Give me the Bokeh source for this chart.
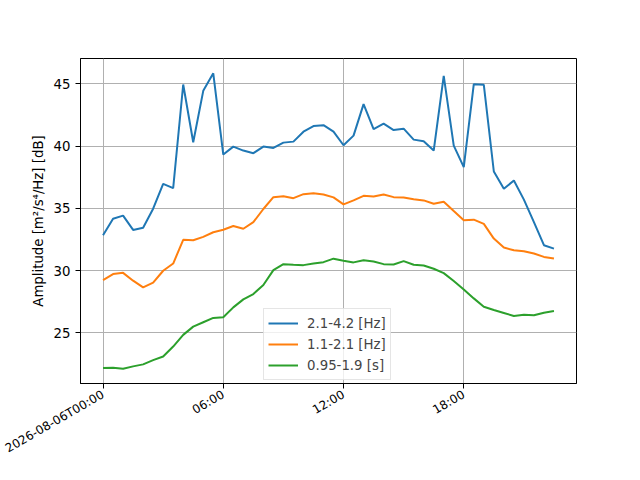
import math
import pandas as pd
from bokeh.plotting import figure
from bokeh.models import ColumnDataSource, Range1d, FixedTicker, Legend, LegendItem
from bokeh.embed import file_html
from bokeh.resources import INLINE

# ---- data ----
START = "2026-08-06 00:00"
N_POINTS = 46
STEP = "30min"

band_hi = [32.84, 34.17, 34.42, 33.27, 33.45, 34.97, 36.97, 36.63, 44.95, 40.31,
           44.44, 45.85, 39.32, 39.96, 39.64, 39.43, 39.96, 39.85, 40.28, 40.36,
           41.16, 41.61, 41.68, 41.16, 40.07, 40.84, 43.37, 41.37, 41.80, 41.29,
           41.40, 40.52, 40.39, 39.64, 45.64, 40.04, 38.31, 44.97, 44.92, 37.96,
           36.57, 37.24, 35.70, 33.90, 32.04, 31.77]
band_mid = [29.24, 29.72, 29.82, 29.19, 28.65, 29.03, 29.99, 30.57, 32.47, 32.44,
            32.71, 33.08, 33.28, 33.58, 33.36, 33.89, 34.95, 35.90, 35.98, 35.82,
            36.14, 36.22, 36.12, 35.88, 35.32, 35.64, 36.01, 35.96, 36.12, 35.90,
            35.88, 35.74, 35.64, 35.37, 35.53, 34.78, 34.04, 34.09, 33.75, 32.57,
            31.85, 31.64, 31.56, 31.37, 31.10, 30.97]
band_per = [22.17, 22.20, 22.12, 22.31, 22.47, 22.81, 23.10, 23.90, 24.84, 25.50,
            25.85, 26.20, 26.25, 27.05, 27.69, 28.12, 28.84, 30.04, 30.52, 30.47,
            30.44, 30.57, 30.68, 30.96, 30.79, 30.66, 30.84, 30.73, 30.52, 30.49,
            30.76, 30.47, 30.41, 30.15, 29.80, 29.16, 28.49, 27.77, 27.10, 26.84,
            26.60, 26.36, 26.46, 26.41, 26.62, 26.76]

series_labels = ["2.1-4.2 [Hz]", "1.1-2.1 [Hz]", "0.95-1.9 [s]"]
series_colors = ["#1f77b4", "#ff7f0e", "#2ca02c"]

x_tick_hours = [0, 6, 12, 18]
x_tick_labels = ["2026-08-06T00:00", "06:00", "12:00", "18:00"]
y_ticks = [25, 30, 35, 40, 45]

# ---- build ----
times = pd.date_range(START, periods=N_POINTS, freq=STEP)
t0 = pd.Timestamp(START)
HOUR_MS = 3600 * 1000.0
t0_ms = t0.value / 1e6

src = ColumnDataSource(dict(t=times, hi=band_hi, mid=band_mid, per=band_per))

span_h = (times[-1] - times[0]).total_seconds() / 3600.0
xmargin = 0.05 * span_h
allv = band_hi + band_mid + band_per
ymin, ymax = min(allv), max(allv)
ymargin = 0.05 * (ymax - ymin)

FONT = "DejaVu Sans"
FS = "13.3px"

p = figure(width=624, height=464, x_axis_type="datetime",
           output_backend="svg", toolbar_location=None,
           x_range=Range1d(t0_ms - xmargin * HOUR_MS, t0_ms + (span_h + xmargin) * HOUR_MS),
           y_range=Range1d(ymin - ymargin, ymax + ymargin),
           min_border_left=80, min_border_right=48, min_border_top=58, min_border_bottom=80)
p.background_fill_color = "white"
p.border_fill_color = "white"
p.outline_line_color = "black"
p.outline_line_width = 1

renderers = []
for col, c in zip(["hi", "mid", "per"], series_colors):
    r = p.line("t", col, source=src, line_color=c, line_width=2)
    renderers.append(r)

tick_ms = [t0_ms + h * HOUR_MS for h in x_tick_hours]
p.xaxis.ticker = FixedTicker(ticks=tick_ms, minor_ticks=[])
p.xaxis.major_label_overrides = {t: lab for t, lab in zip(tick_ms, x_tick_labels)}
p.xaxis.major_label_orientation = math.pi / 6
p.yaxis.ticker = FixedTicker(ticks=y_ticks, minor_ticks=[])
p.yaxis.axis_label = "Amplitude [m²/s⁴/Hz] [dB]"

for ax in (p.xaxis, p.yaxis):
    ax.axis_line_color = "black"
    ax.axis_line_width = 1
    ax.major_tick_line_color = "black"
    ax.major_tick_in = 0
    ax.major_tick_out = 5
    ax.minor_tick_line_color = None
    ax.major_label_text_font = FONT
    ax.major_label_text_font_size = FS
    ax.major_label_text_color = "black"
    ax.axis_label_text_font = FONT
    ax.axis_label_text_font_size = FS
    ax.axis_label_text_font_style = "normal"
    ax.axis_label_text_color = "black"
p.xaxis.major_label_text_font_size = "12px"

p.grid.grid_line_color = "#b0b0b0"
p.grid.grid_line_width = 1

legend = Legend(items=[LegendItem(label=l, renderers=[r]) for l, r in zip(series_labels, renderers)],
                location=(183, 3))
legend.label_text_font = FONT
legend.label_text_font_size = FS
legend.glyph_width = 30
legend.glyph_height = 20
legend.label_height = 20
legend.label_standoff = 9
legend.spacing = 1
legend.padding = 4
legend.margin = 0
legend.border_line_color = "#cccccc"
legend.border_line_width = 1
legend.background_fill_alpha = 0.8
p.add_layout(legend, "center")

open("out.html", "w").write(file_html(p, INLINE))
